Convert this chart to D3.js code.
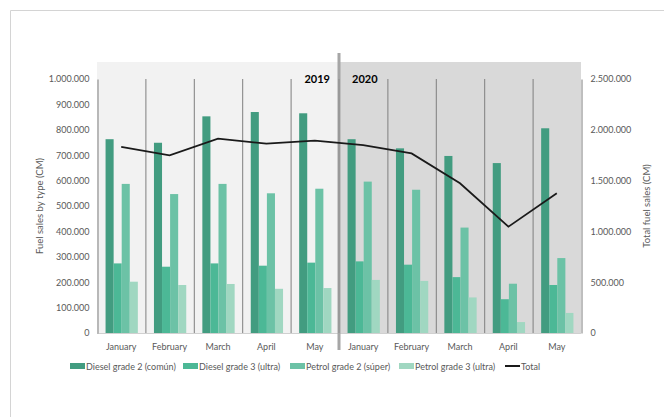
<!DOCTYPE html>
<html><head><meta charset="utf-8">
<script src="https://cdn.jsdelivr.net/npm/d3@7"></script>
<style>
html,body{margin:0;padding:0;background:#fff;}
text{font-family:Lato,"Open Sans",sans-serif;}
</style></head>
<body><svg id="c" width="664" height="417"></svg>
<script>
const months = ["January","February","March","April","May","January","February","March","April","May"];
const years = ["2019","2020"];
const seriesNames = ["Diesel grade 2 (común)","Diesel grade 3 (ultra)","Petrol grade 2 (súper)","Petrol grade 3 (ultra)"];
const dieselG2 = [763000,749000,853000,870000,865000,763000,727000,697000,669000,806000];
const dieselG3 = [274000,261000,274000,265000,277000,282000,269000,220000,133000,189000];
const petrolG2 = [587000,547000,587000,550000,568000,596000,564000,415000,194000,295000];
const petrolG3 = [202000,189000,193000,174000,177000,209000,205000,140000,43000,79000];
const total = [1831000,1749000,1913000,1863000,1893000,1850000,1768000,1473000,1046000,1375000];
const leftTicks = [0,100000,200000,300000,400000,500000,600000,700000,800000,900000,1000000];
const rightTicks = [0,500000,1000000,1500000,2000000,2500000];
const colors = ["#429c80","#4cb896","#6cc2a6","#a0d7c1"];

const svg = d3.select("#c");
const L = 97, R = 581, T = 79, B = 333;
const fmt = v => d3.format(",")(v).replace(/,/g,".");
const cats = months.map((m,i)=>i);
const x = d3.scaleBand().domain(cats).range([L,R]).padding(0);
const xs = d3.scaleBand().domain([0,1,2,3]).range([0, x.bandwidth()*0.667]);
const yL = d3.scaleLinear().domain([0,1000000]).range([B,T]);
const yR = d3.scaleLinear().domain([0,2500000]).range([B,T]);

// outer border
svg.append("path").attr("d","M10.5,417 L10.5,10.5 L664,10.5").attr("fill","none").attr("stroke","#d4d4d4").attr("stroke-width",1);

// panels
svg.append("rect").attr("x",L).attr("y",62).attr("width",x(5)-L).attr("height",B-62).attr("fill","#f2f2f2");
svg.append("rect").attr("x",x(5)).attr("y",62).attr("width",R-x(5)).attr("height",B-62).attr("fill","#d9d9d9");

// category separators
for (let i=1;i<10;i++){
  svg.append("line").attr("x1",x(i)+0.5).attr("x2",x(i)+0.5).attr("y1",T).attr("y2",B).attr("stroke","#7f7f7f").attr("stroke-width",1);
}

// bars
const data = [dieselG2,dieselG3,petrolG2,petrolG3];
const off = (x.bandwidth()-xs.range()[1])/2 + 0.5;
data.forEach((arr,s)=>{
  svg.append("g").selectAll("rect").data(arr).join("rect")
    .attr("x",(d,i)=>x(i)+off+xs(s))
    .attr("width",xs.bandwidth())
    .attr("y",d=>yL(d))
    .attr("height",d=>B-yL(d))
    .attr("fill",colors[s]);
});

// x axis line
svg.append("line").attr("x1",L).attr("x2",R).attr("y1",B+0.5).attr("y2",B+0.5).attr("stroke","#d0d0d0");

// left axis
const gL = svg.append("g").attr("transform",`translate(${L+0.5},0)`)
  .call(d3.axisLeft(yL).tickValues(leftTicks).tickFormat(fmt).tickSize(0).tickPadding(8));
gL.select(".domain").attr("stroke","#7f7f7f");
gL.selectAll("text").attr("fill","#595959").style("font-size","9px");

// right axis
const gR = svg.append("g").attr("transform",`translate(${R+0.5},0)`)
  .call(d3.axisRight(yR).tickValues(rightTicks).tickFormat(fmt).tickSize(0).tickPadding(9));
gR.select(".domain").attr("stroke","#7f7f7f");
gR.selectAll("text").attr("fill","#595959").style("font-size","9px");

// category labels
svg.append("g").selectAll("text").data(months).join("text")
  .attr("x",(d,i)=>x(i)+x.bandwidth()/2).attr("y",350)
  .attr("text-anchor","middle").attr("fill","#595959").style("font-size","9px").text(d=>d);

// divider between years
svg.append("line").attr("x1",x(5)).attr("x2",x(5)).attr("y1",53).attr("y2",350).attr("stroke","#a6a6a6").attr("stroke-width",3);
svg.append("line").attr("x1",x(5)).attr("x2",x(5)).attr("y1",T).attr("y2",B).attr("stroke","#8c8c8c").attr("stroke-width",1);

// year labels
svg.append("text").attr("x",x(5)-9).attr("y",83).attr("text-anchor","end").style("font-size","11px").style("font-weight","bold").attr("fill","#000").text(years[0]);
svg.append("text").attr("x",x(5)+13).attr("y",83).attr("text-anchor","start").style("font-size","11px").style("font-weight","bold").attr("fill","#000").text(years[1]);

// total line
const line = d3.line().x((d,i)=>x(i)+x.bandwidth()/2).y(d=>yR(d));
svg.append("path").datum(total).attr("d",line).attr("fill","none").attr("stroke","#1a1a1a").attr("stroke-width",1.8);

// axis titles
svg.append("text").attr("transform",`translate(43,${(T+B)/2}) rotate(-90)`).attr("text-anchor","middle")
  .attr("fill","#595959").style("font-size","9.5px").text("Fuel sales by type (CM)");
svg.append("text").attr("transform",`translate(650,${(T+B)/2}) rotate(-90)`).attr("text-anchor","middle")
  .attr("fill","#595959").style("font-size","9.5px").text("Total fuel sales (CM)");

// legend
const legX = [70,183,290,399];
seriesNames.forEach((n,i)=>{
  svg.append("rect").attr("x",legX[i]).attr("y",363).attr("width",15).attr("height",6).attr("fill",colors[i]);
  svg.append("text").attr("x",legX[i]+16).attr("y",369.5).attr("fill","#595959").style("font-size","9px").text(n);
});
svg.append("line").attr("x1",505).attr("x2",520).attr("y1",366).attr("y2",366).attr("stroke","#000").attr("stroke-width",1.8);
svg.append("text").attr("x",521).attr("y",369.5).attr("fill","#595959").style("font-size","9px").text("Total");
</script></body></html>
